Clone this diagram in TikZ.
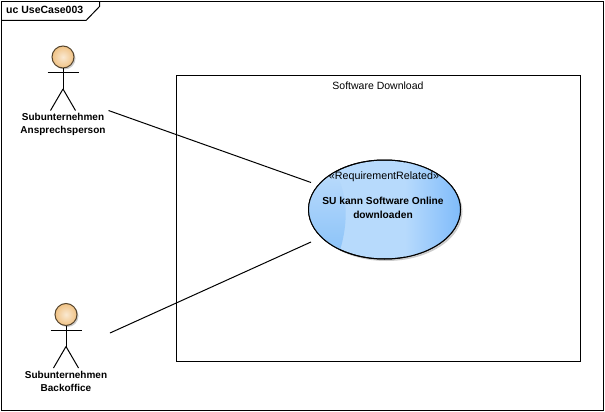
\documentclass[tikz,border=0pt]{standalone}
\usepackage{fontspec}
\setmainfont{Liberation Sans}
\usetikzlibrary{shapes.geometric}
\definecolor{ucA}{HTML}{86C0F8}
\definecolor{ucT}{HTML}{C0DEFC}
\definecolor{ucB}{HTML}{B7DAFC}
\definecolor{ucC}{HTML}{7FBBFA}
\definecolor{headA}{HTML}{F0C284}
\definecolor{headB}{HTML}{FAE9D2}
\tikzset{
 ln/.style={draw=black,line width=1pt},
 lab/.style={font=\fontsize{10pt}{13pt}\selectfont\bfseries,align=center,inner sep=0pt},
 small/.style={font=\fontsize{10.5pt}{13pt}\selectfont,inner sep=0pt},
 usecase/.style={ellipse,minimum width=152pt,minimum height=99pt,inner sep=0pt,line width=1pt,draw=black}
}
\newcommand{\stick}[3]{% name, x, y of head centre
 \fill[black!20] (#2+1.5,#3+1.5) circle[radius=11pt];
 \node[circle,minimum size=22pt,inner sep=0pt,line width=1pt,fill=headA] (#1) at (#2,#3) {};
 \shade[inner color=headB,outer color=headA] (#2,#3) circle[radius=11pt];
 \draw[draw=black!65!headA,line width=1pt] (#2,#3) circle[radius=11pt];
 \coordinate (#1hip) at (#2,#3+32);
 \draw[ln] (#1.south) -- (#1hip);
 \draw[ln] (#2-15.5,#3+16) -- (#2+15.5,#3+16);
 \draw[ln] (#1hip) -- (#2-12.5,#3+53.5);
 \draw[ln] (#1hip) -- (#2+12.5,#3+53.5);
}
\begin{document}
\begin{tikzpicture}[x=1pt,y=-1pt]
\useasboundingbox (0,0) rectangle (605,412);
\fill[white] (0,0) rectangle (605,412);
% frame
\draw[ln] (1.5,1.5) rectangle (603.5,410.5);
\draw[ln] (1.5,20.5) -- (86,20.5) -- (99.5,6.5) -- (99.5,1.5);
\node[lab,font=\fontsize{10.5pt}{13pt}\selectfont\bfseries,anchor=base west] (frametitle) at (6,14) {uc UseCase003};
% system boundary
\node[draw=black,line width=1pt,minimum width=404pt,minimum height=285pt,inner sep=0pt] (sys) at (378.5,218.5) {};
\node[small] (systitle) at (378,86) {Software Download};
% use case
\fill[black!20] (386.5,211.5) ellipse[x radius=76pt,y radius=49.5pt];
\node[usecase,fill=ucB] (uc) at (384.5,209.5) {};
\begin{scope}
 \clip (384.5,209.5) ellipse[x radius=76pt,y radius=49.5pt];
 \shade[left color=ucB,right color=ucC] (405,155) rectangle (461,265);
 \path[top color=ucT,bottom color=ucA] (300,160) -- (328,160) .. controls (350,190) and (350,225) .. (336,262) -- (300,262) -- cycle;
\end{scope}
\draw[line width=1pt] (384.5,209.5) ellipse[x radius=76pt,y radius=49.5pt];
\node[small,font=\fontsize{10.7pt}{13pt}\selectfont] (st) at (384,176.5) {«RequirementRelated»};
\node[lab,font=\fontsize{10.2pt}{13pt}\selectfont\bfseries] (ucname) at (383,208) {SU kann Software Online\\[0.3pt]downloaden};
% actors
\stick{a}{63}{57}
\node[lab] (alab) at (63,124) {Subunternehmen\\Ansprechsperson};
\stick{b}{66}{314.5}
\node[lab] (blab) at (66,381) {Subunternehmen\\Backoffice};
% connectors
\coordinate (ae) at (108.5,110.5);
\coordinate (ue) at (311,182.5);
\coordinate (be) at (110,333);
\coordinate (uf) at (311,242);
\draw[ln] (ae) -- (ue);
\draw[ln] (be) -- (uf);
\end{tikzpicture}
\end{document}
